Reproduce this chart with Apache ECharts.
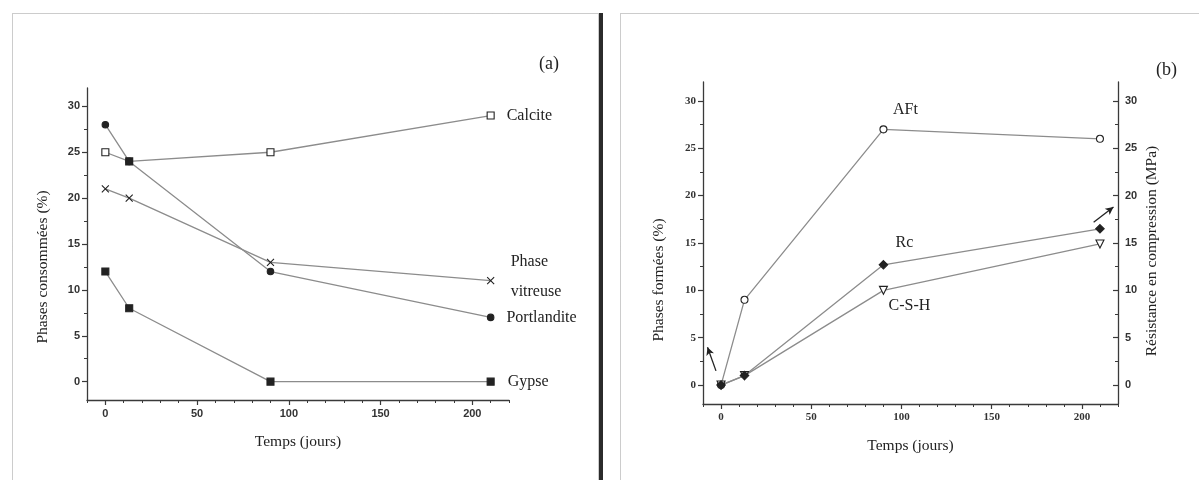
<!DOCTYPE html>
<html>
<head>
<meta charset="utf-8">
<script src="https://cdn.jsdelivr.net/npm/echarts@6/dist/echarts.min.js"></script>
<style>
html,body{margin:0;padding:0;background:#fff;}
#c{width:1199px;height:480px;}
</style>
</head>
<body>
<div id="c"></div>
<script>
// ---------- data ----------
const days = [0, 13, 90, 210];
const calcite = [25, 24, 25, 29];
const portlandite = [28, 24, 12, 7];
const phaseVitreuse = [21, 20, 13, 11];
const gypse = [12, 8, 0, 0];

const aft = [0, 9, 27, 26];
const rc = [0, 1, 12.7, 16.5];
const csh = [0, 1, 10, 14.9];

const xMajor = [0, 50, 100, 150, 200];
const xMinor = [-10, 10, 20, 30, 40, 60, 70, 80, 90, 110, 120, 130, 140, 160, 170, 180, 190, 210, 220];
const yMajor = [0, 5, 10, 15, 20, 25, 30];
const yMinor = [-2.5, 2.5, 7.5, 12.5, 17.5, 22.5, 27.5];

// ---------- styles ----------
const LINE = '#8c8c8c';
const MARK = '#222';
const AX = '#3a3a3a';
const SERIF = '"Liberation Serif", "DejaVu Serif", serif';
const SANS = '"Liberation Sans", Arial, sans-serif';

function pts(ys) { return days.map((d, i) => [d, ys[i]]); }

function xAx(grid, labelFont, name) {
  return {
    type: 'value', gridIndex: grid, min: -10, max: 220, position: 'bottom',
    splitLine: { show: false },
    axisLine: { onZero: false, lineStyle: { color: AX, width: 1.3 } },
    axisTick: { customValues: xMajor, length: 5, lineStyle: { color: AX, width: 1.2 } },
    axisLabel: { customValues: xMajor, fontFamily: labelFont, fontSize: 11, fontWeight: 'bold', color: '#333', margin: 8 },
    name: name, nameLocation: 'middle', nameGap: 34,
    nameTextStyle: { fontFamily: SERIF, fontSize: 15.5, color: '#222' }
  };
}
function xMinorAx(grid) {
  return {
    type: 'value', gridIndex: grid, min: -10, max: 220, position: 'bottom',
    splitLine: { show: false }, axisLine: { show: false, onZero: false },
    axisTick: { customValues: xMinor, length: 3, lineStyle: { color: AX, width: 1 } },
    axisLabel: { show: false }
  };
}
function yAx(grid, pos, labelFont, name, gap, pad, inside) {
  return {
    type: 'value', gridIndex: grid, min: -2, max: 32, position: pos,
    splitLine: { show: false },
    axisLine: { onZero: false, lineStyle: { color: AX, width: 1.3 } },
    axisTick: { customValues: yMajor, inside: !!inside, length: 5, lineStyle: { color: AX, width: 1.2 } },
    axisLabel: { customValues: yMajor, fontFamily: labelFont, fontSize: 11, fontWeight: 'bold', color: '#333', margin: 7 },
    name: name, nameLocation: 'middle', nameGap: gap, nameRotate: 90,
    nameTextStyle: { fontFamily: SERIF, fontSize: 15.5, color: '#222', padding: pad }
  };
}
function yMinorAx(grid, pos, inside) {
  return {
    type: 'value', gridIndex: grid, min: -2, max: 32, position: pos,
    splitLine: { show: false }, axisLine: { show: false, onZero: false },
    axisTick: { customValues: yMinor, inside: !!inside, length: 3, lineStyle: { color: AX, width: 1 } },
    axisLabel: { show: false }
  };
}

const labelText = { fontFamily: SERIF, fontSize: 16, color: '#222' };

function endLabeled(ys, text, dist, offset) {
  return pts(ys).map((p, i) => i === ys.length - 1
    ? { value: p, label: Object.assign({ show: true, position: 'right', distance: dist, offset: offset || [0, 0], formatter: text, lineHeight: 30 }, labelText) }
    : p);
}
function midLabeled(ys, idx, text, offset) {
  return pts(ys).map((p, i) => i === idx
    ? { value: p, label: Object.assign({ show: true, position: 'inside', offset: offset, formatter: text }, labelText) }
    : p);
}

function line(name, xi, yi, data, symbol, size, fill, extra) {
  return Object.assign({
    name: name, type: 'line', xAxisIndex: xi, yAxisIndex: yi, data: data,
    symbol: symbol, symbolSize: size, showSymbol: true,
    lineStyle: { color: LINE, width: 1.3 },
    itemStyle: { color: fill, borderColor: MARK, borderWidth: 1.1 },
    emphasis: { disabled: true }, z: 3, animation: false
  }, extra || {});
}

const calciteData = endLabeled(calcite, 'Calcite', 12);
calciteData[1] = { value: calciteData[1], itemStyle: { color: MARK } };

const option = {
  backgroundColor: '#fff',
  animation: false,
  grid: [
    { left: 87, top: 88, width: 422, height: 312 },
    { left: 703, top: 82, width: 415, height: 322 }
  ],
  xAxis: [
    xAx(0, SANS, 'Temps (jours)'), xMinorAx(0),
    xAx(1, SERIF, 'Temps (jours)'), xMinorAx(1)
  ],
  yAxis: [
    yAx(0, 'left', SANS, 'Phases consommées (%)', 36, [0, 46, 0, 0]), yMinorAx(0, 'left'),
    yAx(1, 'left', SERIF, 'Phases formées (%)', 36, [0, 74, 0, 0]), yMinorAx(1, 'left'),
    yAx(1, 'right', SANS, 'Résistance en compression (MPa)', 26, [0, 16, 0, 0], true), yMinorAx(1, 'right', true)
  ],
  series: [
    line('Calcite', 0, 0, calciteData, 'rect', 7, '#fff'),
    line('Portlandite', 0, 0, endLabeled(portlandite, 'Portlandite', 12), 'circle', 6.5, MARK),
    line('Phase vitreuse', 0, 0, endLabeled(phaseVitreuse, 'Phase\nvitreuse', 14, [0, -4]),
      'path://M0,0L10,10M10,0L0,10', 7, 'none', { itemStyle: { color: 'none', borderColor: MARK, borderWidth: 1.1 } }),
    line('Gypse', 0, 0, endLabeled(gypse, 'Gypse', 13), 'rect', 7, MARK),

    line('AFt', 2, 2, midLabeled(aft, 2, 'AFt', [22, -20]), 'circle', 7, '#fff', {
      markLine: {
        silent: true, symbol: ['none', 'arrow'], symbolSize: [6, 8], label: { show: false },
        lineStyle: { color: '#222', width: 1.3, type: 'solid' },
        data: [[{ coord: [-2.8, 1.5] }, { coord: [-7.5, 4.0] }]]
      }
    }),
    line('C-S-H', 2, 2, midLabeled(csh, 2, 'C-S-H', [26, 15]), 'triangle', 8, '#fff', { symbolRotate: 180 }),
    line('Rc', 2, 4, midLabeled(rc, 2, 'Rc', [21, -22]), 'diamond', 8.5, MARK, {
      markLine: {
        silent: true, symbol: ['none', 'arrow'], symbolSize: [6, 8], label: { show: false },
        lineStyle: { color: '#222', width: 1.3, type: 'solid' },
        data: [[{ coord: [206.5, 17.2] }, { coord: [217.5, 18.8] }]]
      }
    })
  ],
  graphic: [
    { type: 'rect', shape: { x: 12.5, y: 13.5, width: 586, height: 480 }, style: { fill: 'none', stroke: '#999', lineWidth: 1, lineDash: [1, 1] }, silent: true },
    { type: 'rect', shape: { x: 599, y: 13, width: 4, height: 470 }, style: { fill: '#2b2b2b' }, silent: true },
    { type: 'rect', shape: { x: 620.5, y: 13.5, width: 590, height: 480 }, style: { fill: 'none', stroke: '#999', lineWidth: 1, lineDash: [1, 1] }, silent: true },
    { type: 'text', left: 539, top: 55, style: { text: '(a)', font: '18px ' + SERIF, fill: '#222' } },
    { type: 'text', left: 1156, top: 61, style: { text: '(b)', font: '18px ' + SERIF, fill: '#222' } }
  ]
};

const chart = echarts.init(document.getElementById('c'), null, { renderer: 'canvas' });
chart.setOption(option);
</script>
</body>
</html>
